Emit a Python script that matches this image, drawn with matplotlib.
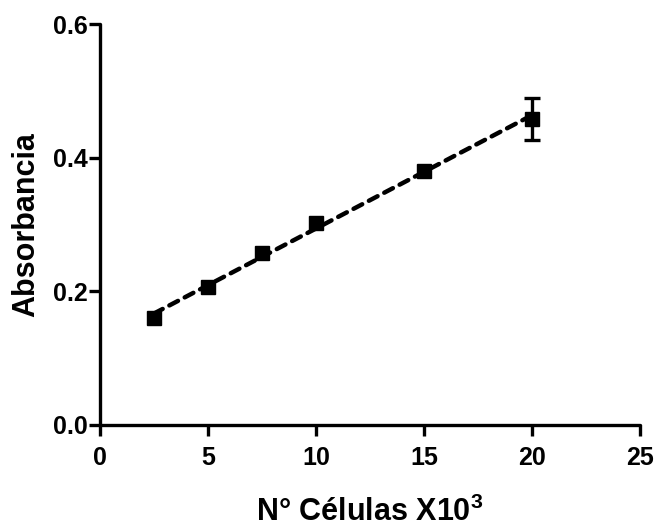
import numpy as np
import matplotlib
matplotlib.use("Agg")
import matplotlib.pyplot as plt

plt.rcParams['font.family'] = ['Liberation Sans', 'DejaVu Sans']
plt.rcParams['font.weight'] = 'bold'
plt.rcParams['mathtext.fontset'] = 'custom'
plt.rcParams['mathtext.rm'] = 'Liberation Sans:bold'
plt.rcParams['mathtext.bf'] = 'Liberation Sans:bold'

cells = [2.5, 5, 7.5, 10, 15, 20]
absorbance = [0.160, 0.207, 0.257, 0.302, 0.380, 0.458]
errors = [0.0, 0.0, 0.0, 0.0, 0.0, 0.031]
xticks = [0, 5, 10, 15, 20, 25]
yticks = [0.0, 0.2, 0.4, 0.6]

fig = plt.figure(figsize=(6.6, 5.27), dpi=100)
ax = fig.add_axes([100/660, 102/527, 540/660, 401/527])

slope, intercept = np.polyfit(cells, absorbance, 1)
xfit = np.array([min(cells), max(cells)])
ax.plot(xfit, slope * xfit + intercept, color='black', lw=3.2,
        linestyle=(0, (2.2, 1.7)), dash_capstyle='round', zorder=2)

ax.plot(cells, absorbance, 's', color='black', markersize=10.5, zorder=3)
xe = [c for c, e in zip(cells, errors) if e > 0]
ye = [a for a, e in zip(absorbance, errors) if e > 0]
ee = [e for e in errors if e > 0]
ax.errorbar(xe, ye, yerr=ee, fmt='none', ecolor='black',
            elinewidth=2.4, capsize=6, capthick=2.4, zorder=3)

ax.set_xlim(0, 25)
ax.set_ylim(0, 0.6)
ax.set_xticks(xticks)
ax.set_xticklabels([str(t) for t in xticks])
ax.set_yticks(yticks)
ax.set_yticklabels([f"{t:.1f}" for t in yticks])

for s in ['top', 'right']:
    ax.spines[s].set_visible(False)
for s in ['left', 'bottom']:
    ax.spines[s].set_linewidth(2.4)
    ax.spines[s].set_capstyle('round')

ax.tick_params(axis='both', direction='out', length=8, width=2.4,
               labelsize=18)
ax.tick_params(axis='y', pad=1)
ax.tick_params(axis='x', pad=7)
for lab in ax.get_xticklabels() + ax.get_yticklabels():
    lab.set_fontweight('bold')

ax.set_xlabel(r"N° Células X10$^{\mathbf{3}}$", fontsize=22, fontweight='bold', labelpad=19)
ax.set_ylabel("Absorbancia", fontsize=22, fontweight='bold', labelpad=8)

fig.savefig("out.png", dpi=100)
